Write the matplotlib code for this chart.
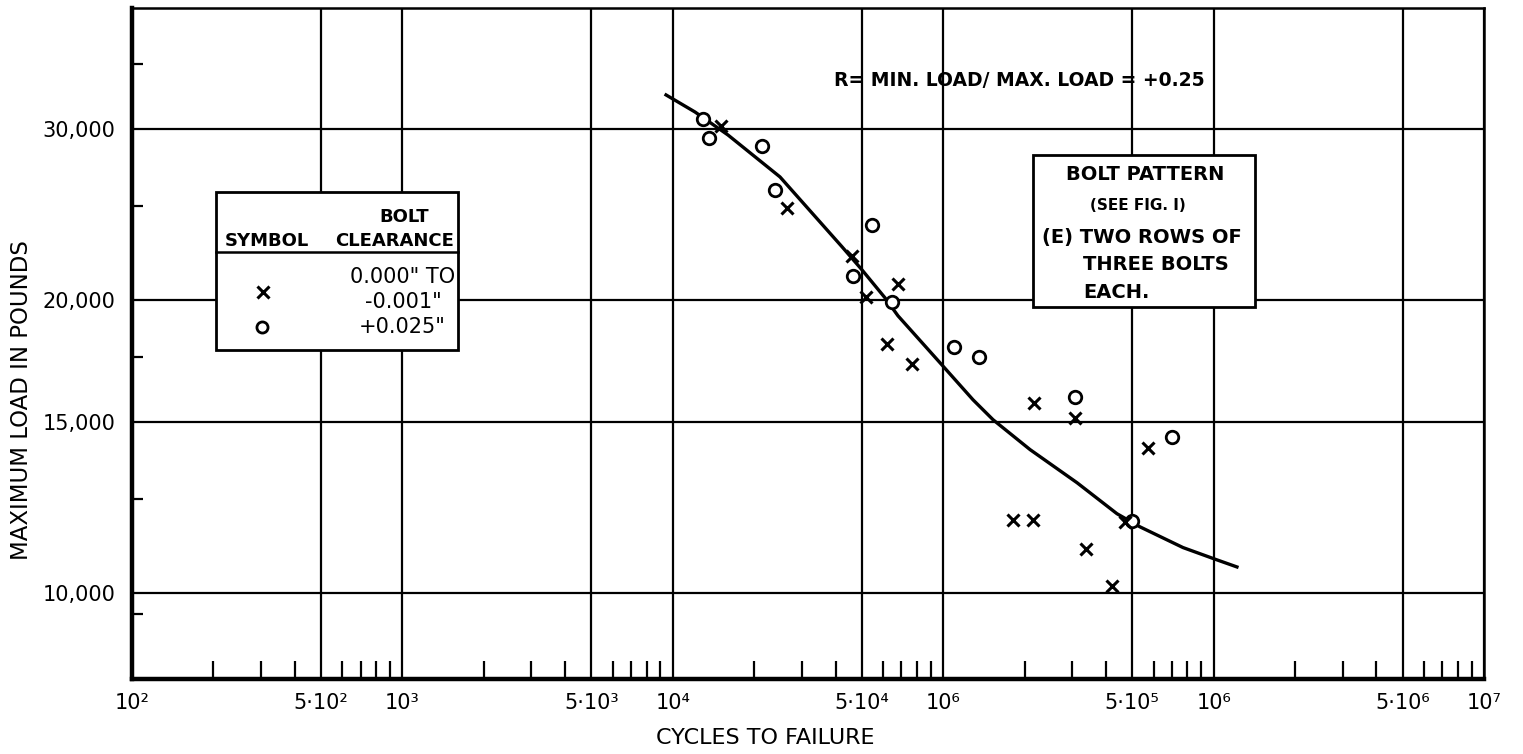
"""S-N curve, bolt pattern (E), R = +0.25, redrawn from a scanned chart."""
import numpy as np
import matplotlib.pyplot as plt
from matplotlib.patches import Rectangle
from matplotlib.lines import Line2D
from matplotlib.ticker import FixedLocator, FixedFormatter, NullFormatter

### data (cycles to failure, max load in lb)
curve_n = [9440, 12080, 16000, 24910, 42240, 50080, 60920, 68050, 97310, 128900,
           152900, 209500, 312500, 439200, 534300, 770600, 1029000, 1220000]
curve_s = [32550, 31260, 29600, 26800, 22710, 21500, 20120, 19280, 17250, 15800,
           15070, 14040, 12980, 12060, 11690, 11130, 10810, 10630]

# bolt clearance 0.000" to -0.001"  (x)
x_n = [15040, 26380, 45990, 51680, 67870, 61970, 76450, 216100, 307200, 573400,
       181700, 214300, 470100, 336500, 420100]
x_s = [30270, 24920, 22230, 20180, 20800, 18020, 17210, 15680, 15130, 14090,
       11890, 11890, 11830, 11090, 10170]

# bolt clearance +0.025"  (o)
o_n = [12970, 13610, 21370, 23880, 54670, 46500, 64820, 110100, 135200, 307900,
       699800, 499000]
o_s = [30730, 29380, 28840, 25980, 23890, 21200, 19900, 17920, 17500, 15900,
       14480, 11860]

x_major = [1e2, 5e2, 1e3, 5e3, 1e4, 5e4, 1e5, 5e5, 1e6, 5e6, 1e7]
# the printed chart labels 10^5 as "10⁶", kept as printed
x_labels = ['10²', '5·10²', '10³', '5·10³', '10⁴', '5·10⁴', '10⁶', '5·10⁵', '10⁶', '5·10⁶', '10⁷']
x_minor = [m * 10.0 ** e for e in range(2, 7) for m in (2, 3, 4, 6, 7, 8, 9)]

y_major = [10000, 15000, 20000, 30000]
y_labels = ['10,000', '15,000', '20,000', '30,000']
y_minor = [9500, 12500, 17500, 25000, 35000]

W, H = 1523, 754


def fx(px):
    return px / W


def fy(py):
    return 1 - py / H


plt.rcParams['font.family'] = ['DejaVu Sans']

fig = plt.figure(figsize=(W / 100, H / 100), dpi=100)
ax = fig.add_axes([fx(132), fy(679), fx(1484) - fx(132), fy(8) - fy(679)])

ax.set_xscale('log')
ax.set_yscale('log')
ax.set_xlim(1e2, 1e7)
ax.set_ylim(8150, 40000)

ax.xaxis.set_major_locator(FixedLocator(x_major))
ax.xaxis.set_major_formatter(FixedFormatter(x_labels))
ax.xaxis.set_minor_locator(FixedLocator(x_minor))
ax.xaxis.set_minor_formatter(NullFormatter())
ax.yaxis.set_major_locator(FixedLocator(y_major))
ax.yaxis.set_major_formatter(FixedFormatter(y_labels))
ax.yaxis.set_minor_locator(FixedLocator(y_minor))
ax.yaxis.set_minor_formatter(NullFormatter())

ax.tick_params(which='major', length=0, labelsize=15, colors='black')
ax.tick_params(axis='x', which='major', pad=10)
ax.tick_params(axis='y', which='major', pad=12)
ax.tick_params(axis='x', which='minor', direction='in', length=13, width=1.6)
ax.tick_params(axis='y', which='minor', direction='in', length=8, width=1.6)

ax.grid(True, which='major', color='black', linewidth=1.6)
for side in ('left', 'bottom'):
    ax.spines[side].set_linewidth(3.2)
for side in ('top', 'right'):
    ax.spines[side].set_linewidth(1.8)

# fitted curve and test points
ax.plot(curve_n, curve_s, color='black', linewidth=2.4, zorder=3)
ax.plot(o_n, o_s, linestyle='none', marker='o', markersize=9, markeredgewidth=2.0,
        markerfacecolor='white', markeredgecolor='black', zorder=4)
ax.plot(x_n, x_s, linestyle='none', marker='x', markersize=8, markeredgewidth=2.2,
        color='black', zorder=5)

fig.text(fx(22), fy(400), 'MAXIMUM LOAD IN POUNDS', rotation=90, ha='center',
         va='center', fontsize=16.5)
fig.text(fx(765), fy(738), 'CYCLES TO FAILURE', ha='center', va='center', fontsize=16)

fig.text(fx(1019), fy(81), 'R= MIN. LOAD/ MAX. LOAD = +0.25', ha='center',
         va='center', fontsize=13.5, weight='bold')

# symbol legend box
fig.add_artist(Rectangle((fx(216), fy(350)), fx(458) - fx(216), fy(192) - fy(350),
                         transform=fig.transFigure, facecolor='white',
                         edgecolor='black', linewidth=2, zorder=5))
fig.add_artist(Line2D([fx(216), fx(458)], [fy(252), fy(252)], transform=fig.transFigure,
                      color='black', linewidth=1.8, zorder=6))
fig.text(fx(404), fy(217), 'BOLT', ha='center', va='center', fontsize=13,
         weight='bold', zorder=7)
fig.text(fx(267), fy(241), 'SYMBOL', ha='center', va='center', fontsize=13,
         weight='bold', zorder=7)
fig.text(fx(395), fy(241), 'CLEARANCE', ha='center', va='center', fontsize=13,
         weight='bold', zorder=7)
fig.text(fx(403), fy(277), '0.000" TO', ha='center', va='center', fontsize=15, zorder=7)
fig.text(fx(403), fy(302), '-0.001"', ha='center', va='center', fontsize=15, zorder=7)
fig.text(fx(402), fy(327), '+0.025"', ha='center', va='center', fontsize=15, zorder=7)
fig.add_artist(Line2D([fx(263)], [fy(292)], marker='x', markersize=8, markeredgewidth=2.2,
                      color='black', transform=fig.transFigure, zorder=7))
fig.add_artist(Line2D([fx(262)], [fy(327)], marker='o', markersize=8, markeredgewidth=2.0,
                      markerfacecolor='white', markeredgecolor='black',
                      transform=fig.transFigure, zorder=7))

# bolt pattern box
fig.add_artist(Rectangle((fx(1033), fy(307)), fx(1255) - fx(1033), fy(155) - fy(307),
                         transform=fig.transFigure, facecolor='white',
                         edgecolor='black', linewidth=2, zorder=5))
fig.text(fx(1145), fy(175), 'BOLT PATTERN', ha='center', va='center', fontsize=14,
         weight='bold', zorder=7)
fig.text(fx(1138), fy(205), '(SEE FIG. I)', ha='center', va='center', fontsize=11,
         weight='bold', zorder=7)
fig.text(fx(1042), fy(238), '(E) TWO ROWS OF', ha='left', va='center', fontsize=14,
         weight='bold', zorder=7)
fig.text(fx(1083), fy(265), 'THREE BOLTS', ha='left', va='center', fontsize=14,
         weight='bold', zorder=7)
fig.text(fx(1083), fy(292), 'EACH.', ha='left', va='center', fontsize=14,
         weight='bold', zorder=7)

fig.savefig('out.png', dpi=100, facecolor='white')
